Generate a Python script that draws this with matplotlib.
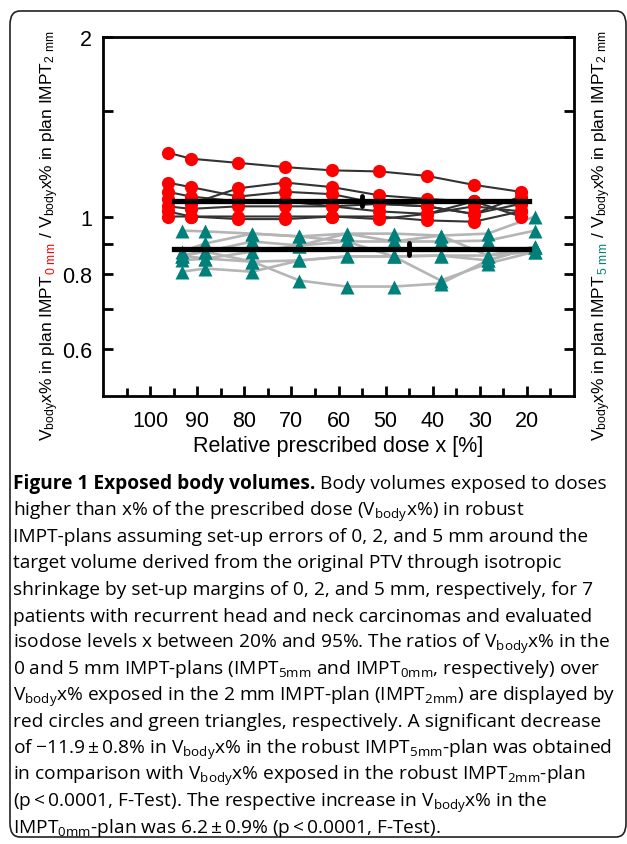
import numpy as np
import matplotlib.pyplot as plt
from matplotlib.patches import FancyBboxPatch

# isodose levels (x axis) and ratios, one list per patient
dose = [95, 90, 80, 70, 60, 50, 40, 30, 20]

ratio_0mm = [
    [1.28, 1.25, 1.23, 1.21, 1.195, 1.19, 1.17, 1.13, 1.10],
    [1.14, 1.12, 1.08, 1.10, 1.09, 1.05, 1.04, 1.01, 1.08],
    [1.07, 1.05, 1.115, 1.14, 1.12, 1.085, 1.07, 1.06, 1.05],
    [1.10, 1.08, 1.06, 1.06, 1.04, 1.02, 1.01, 1.04, 1.02],
    [1.04, 1.03, 1.04, 1.04, 1.04, 1.05, 1.04, 1.01, 1.05],
    [1.02, 1.00, 1.00, 1.00, 1.00, 0.99, 1.01, 1.06, 1.00],
    [1.00, 1.00, 0.99, 0.99, 1.00, 1.00, 0.985, 0.98, 1.02],
]
ratio_5mm = [
    [0.947, 0.944, 0.936, 0.926, 0.936, 0.936, 0.929, 0.936, 1.00],
    [0.873, 0.901, 0.936, 0.926, 0.908, 0.908, 0.908, 0.911, 0.947],
    [0.860, 0.873, 0.908, 0.894, 0.936, 0.908, 0.929, 0.860, 0.890],
    [0.844, 0.850, 0.873, 0.894, 0.908, 0.857, 0.781, 0.834, 0.873],
    [0.860, 0.873, 0.840, 0.844, 0.857, 0.857, 0.860, 0.844, 0.890],
    [0.808, 0.818, 0.808, 0.844, 0.857, 0.857, 0.860, 0.860, 0.873],
    [0.860, 0.850, 0.840, 0.781, 0.763, 0.763, 0.772, 0.844, 0.890],
]

mean_0mm, err_0mm, err_x_0mm = 1.062, 0.02, 55
mean_5mm, err_5mm, err_x_5mm = 0.881, 0.02, 45
mean_span = [95, 19.5]

yticks = [0.6, 0.7, 0.8, 0.9, 1, 1.5, 2]
ytick_labels = ['0.6', '', '0.8', '', '1', '', '2']
xticks = [100, 90, 80, 70, 60, 50, 40, 30, 20]
xticks_minor = [105, 95, 85, 75, 65, 55, 45, 35, 25, 15]

caption = [
    "higher than x% of the prescribed dose (V$_{body}$x%) in robust",
    "IMPT-plans assuming set-up errors of 0, 2, and 5 mm around the",
    "target volume derived from the original PTV through isotropic",
    "shrinkage by set-up margins of 0, 2, and 5 mm, respectively, for 7",
    "patients with recurrent head and neck carcinomas and evaluated",
    "isodose levels x between 20% and 95%. The ratios of V$_{body}$x% in the",
    "0 and 5 mm IMPT-plans (IMPT$_{5mm}$ and IMPT$_{0mm}$, respectively) over",
    "V$_{body}$x% exposed in the 2 mm IMPT-plan (IMPT$_{2mm}$) are displayed by",
    "red circles and green triangles, respectively. A significant decrease",
    "of \u221211.9\u2009\u00b1\u20090.8% in V$_{body}$x% in the robust IMPT$_{5mm}$-plan was obtained",
    "in comparison with V$_{body}$x% exposed in the robust IMPT$_{2mm}$-plan",
    "(p\u2009<\u20090.0001, F-Test). The respective increase in V$_{body}$x% in the",
    "IMPT$_{0mm}$-plan was 6.2\u2009\u00b1\u20090.9% (p\u2009<\u20090.0001, F-Test).",
]

RED = '#ff0000'
TEAL = '#00807a'

plt.rcParams['font.family'] = ['Liberation Sans', 'DejaVu Sans']
plt.rcParams['mathtext.default'] = 'regular'

W, H = 627, 845
fig = plt.figure(figsize=(W / 100, H / 100), dpi=100)
ax = fig.add_axes([103 / W, 1 - 397 / H, (574 - 103) / W, (397 - 38) / H])

xr = np.array(dose) + 1.3
xg = np.array(dose) - 1.7

for ys in ratio_5mm:
    ax.plot(xg, ys, color='#b5b5b5', lw=1.9, zorder=2)
for ys in ratio_5mm:
    ax.plot(xg, ys, ls='none', marker='^', ms=10, color=TEAL, mec='none', zorder=3)
for ys in ratio_0mm:
    ax.plot(xr, ys, color='#333333', lw=1.5, zorder=4)
for ys in ratio_0mm:
    ax.plot(xr, ys, ls='none', marker='o', ms=9.5, color=RED, mec='none', zorder=5)

ax.plot(mean_span, [mean_0mm, mean_0mm], color='black', lw=3.8, zorder=6)
ax.plot(mean_span, [mean_5mm, mean_5mm], color='black', lw=3.8, zorder=6)
ax.plot([err_x_0mm, err_x_0mm], [mean_0mm - err_0mm, mean_0mm + err_0mm],
        color='black', lw=3.5, solid_capstyle='round', zorder=7)
ax.plot([err_x_5mm, err_x_5mm], [mean_5mm - err_5mm, mean_5mm + err_5mm],
        color='black', lw=3.5, solid_capstyle='round', zorder=7)

ax.set_yscale('log')
ax.set_ylim(0.5, 2)
ax.set_xlim(110, 10)
ax.minorticks_off()
ax.set_yticks(yticks, labels=ytick_labels)
ax.set_xticks(xticks)
ax.set_xticks(xticks_minor, minor=True)
ax.tick_params(which='both', direction='in', width=2, labelsize=15.5, top=False, right=True)
ax.tick_params(which='major', length=7)
ax.tick_params(which='minor', length=6)
ax.tick_params(axis='y', pad=8)
ax.tick_params(axis='x', pad=10)
for s in ax.spines.values():
    s.set_linewidth(2)
ax.set_xlabel('Relative prescribed dose x [%]', fontsize=15.5, labelpad=3)

renderer = fig.canvas.get_renderer()


def vertical_label(x_px, yc_px, parts, size):
    texts = []
    for s, c in parts:
        t = fig.text(0, 0, s, color=c, rotation=90, rotation_mode='anchor',
                     ha='left', va='baseline', fontsize=size)
        texts.append(t)
    lengths = [t.get_window_extent(renderer).height for t in texts]
    y = (H - yc_px) - sum(lengths) / 2
    for t, L in zip(texts, lengths):
        t.set_position((x_px / W, y / H))
        y += L


vertical_label(53, 236, [("V$_{body}$x% in plan IMPT", 'black'),
                         ("$_{0\\ mm}$", RED),
                         (" / V$_{body}$x% in plan IMPT$_{2\\ mm}$", 'black')], 12.5)
vertical_label(605, 236, [("V$_{body}$x% in plan IMPT", 'black'),
                          ("$_{5\\ mm}$", TEAL),
                          (" / V$_{body}$x% in plan IMPT$_{2\\ mm}$", 'black')], 12.5)

# caption box
box = FancyBboxPatch((10 / W, 1 - 838 / H), 616 / W, 826 / H,
                     boxstyle='round,pad=0,rounding_size=0.016',
                     transform=fig.transFigure, fill=False, ec='#222222', lw=1.2)
fig.add_artist(box)

cap_font = ['Open Sans', 'DejaVu Sans']
cap_size = 13.8
x0 = 13
base0 = 489
step = 26.5
t = fig.text(x0 / W, 1 - base0 / H, "Figure 1 Exposed body volumes.", family=cap_font,
             fontsize=cap_size, weight='bold', va='baseline')
wb = t.get_window_extent(renderer).width
fig.text((x0 + wb) / W, 1 - base0 / H, " Body volumes exposed to doses", family=cap_font,
         fontsize=cap_size, va='baseline')
for i, line in enumerate(caption):
    fig.text(x0 / W, 1 - (base0 + step * (i + 1)) / H, line, family=cap_font,
             fontsize=cap_size, va='baseline')

fig.savefig('out.png', dpi=100)
